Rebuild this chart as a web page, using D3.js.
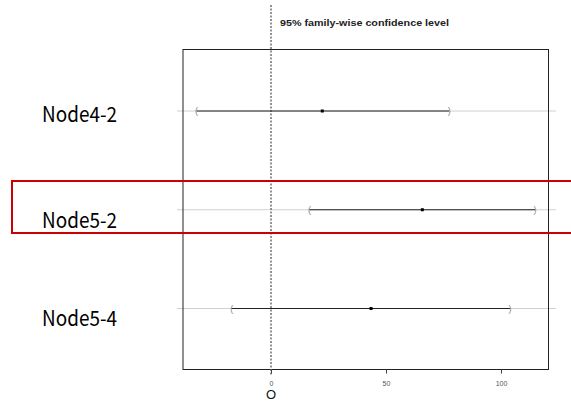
<!DOCTYPE html>
<html>
<head>
<meta charset="utf-8">
<script src="https://cdn.jsdelivr.net/npm/d3@7/dist/d3.min.js"></script>
<style>
  html, body { margin: 0; padding: 0; background: #fff; }
  svg { display: block; }
</style>
</head>
<body>
<svg id="chart" width="571" height="404"></svg>
<script>
// ---- data ----
const categories = ["Node4-2", "Node5-2", "Node5-4"];
const diffs = [22.3, 65.8, 43.5];
const lowers = [-32.4, 16.7, -17.1];
const uppers = [77.5, 114.8, 103.9];
const xTicks = [0, 50, 100];
const title = "95% family-wise confidence level";
const xLabel = "O";

// ---- layout ----
const box = { left: 183, right: 548.5, top: 49.5, bottom: 369.5 };
const svg = d3.select("#chart");

const x = d3.scaleLinear().domain([0, 100]).range([271, 501]);
const y = d3.scalePoint().domain(categories).range([111, 308.5]);

// grey reference lines per row (extend a bit beyond the box)
svg.append("g").selectAll("line").data(categories).join("line")
  .attr("x1", 177).attr("x2", 556)
  .attr("y1", d => y(d)).attr("y2", d => y(d))
  .attr("stroke", "#d0d0d0").attr("stroke-width", 1);

// plot box
svg.append("rect")
  .attr("x", box.left).attr("y", box.top)
  .attr("width", box.right - box.left).attr("height", box.bottom - box.top)
  .attr("fill", "none").attr("stroke", "#222").attr("stroke-width", 1);

// dotted zero line
svg.append("line")
  .attr("x1", x(0)).attr("x2", x(0))
  .attr("y1", 5).attr("y2", 376)
  .attr("stroke", "#666").attr("stroke-width", 1.4)
  .attr("stroke-dasharray", "2,1.5");

// title
svg.append("text")
  .attr("x", 280).attr("y", 26)
  .attr("font-family", "Liberation Sans, Arial, sans-serif")
  .attr("font-size", 8.5).attr("font-weight", "bold").attr("fill", "#222")
  .attr("textLength", 169).attr("lengthAdjust", "spacingAndGlyphs")
  .text(title);

// intervals
const rows = categories.map((c, i) => ({ c, d: diffs[i], lo: lowers[i], hi: uppers[i] }));
const g = svg.append("g");
g.selectAll("line.ci").data(rows).join("line").attr("class", "ci")
  .attr("x1", r => x(r.lo)).attr("x2", r => x(r.hi))
  .attr("y1", r => y(r.c)).attr("y2", r => y(r.c))
  .attr("stroke", "#222").attr("stroke-width", 1.2);
g.selectAll("text.lo").data(rows).join("text").attr("class", "lo")
  .attr("x", r => x(r.lo)).attr("y", r => y(r.c) + 3)
  .attr("text-anchor", "middle")
  .attr("font-family", "Liberation Sans, Arial, sans-serif")
  .attr("font-size", 9).attr("fill", "#888").text("(");
g.selectAll("text.hi").data(rows).join("text").attr("class", "hi")
  .attr("x", r => x(r.hi)).attr("y", r => y(r.c) + 3)
  .attr("text-anchor", "middle")
  .attr("font-family", "Liberation Sans, Arial, sans-serif")
  .attr("font-size", 9).attr("fill", "#888").text(")");
g.selectAll("rect.pt").data(rows).join("rect").attr("class", "pt")
  .attr("x", r => x(r.d) - 1.5).attr("y", r => y(r.c) - 1.5)
  .attr("width", 3).attr("height", 3).attr("fill", "#000");

// x axis
const ax = svg.append("g")
  .attr("transform", `translate(0,${box.bottom})`)
  .call(d3.axisBottom(x).tickValues(xTicks).tickSize(4).tickPadding(8));
ax.select(".domain").remove();
ax.selectAll(".tick line").attr("stroke", "#444");
ax.selectAll(".tick text")
  .attr("font-family", "Liberation Sans, Arial, sans-serif")
  .attr("font-size", 7).attr("fill", "#555");

// x label
svg.append("text")
  .attr("x", x(0)).attr("y", 399)
  .attr("text-anchor", "middle")
  .attr("font-family", "Liberation Sans, Arial, sans-serif")
  .attr("font-size", 13).attr("fill", "#111").text(xLabel);

// category labels
const labelDy = [11, 18, 17];
svg.append("g").selectAll("text").data(categories).join("text")
  .attr("x", 42).attr("y", (d, i) => y(d) + labelDy[i])
  .attr("font-family", "Noto Sans CJK JP, sans-serif")
  .attr("font-size", 21).attr("fill", "#000")
  .attr("textLength", 75).attr("lengthAdjust", "spacingAndGlyphs")
  .text(d => d);

// red highlight box
svg.append("rect")
  .attr("x", 12).attr("y", 181)
  .attr("width", 570).attr("height", 52)
  .attr("fill", "none").attr("stroke", "#cc0000").attr("stroke-width", 2);
</script>
</body>
</html>
